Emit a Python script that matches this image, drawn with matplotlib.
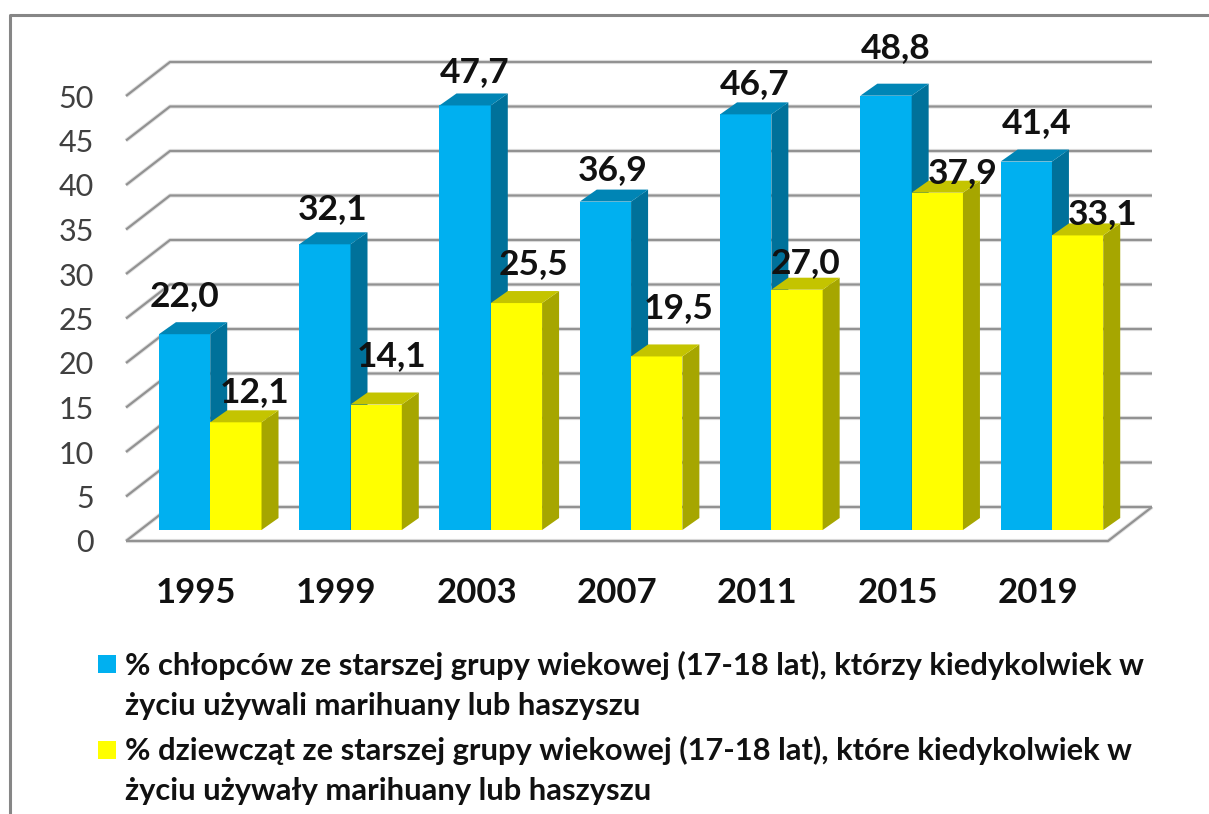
import numpy as np
import matplotlib
matplotlib.use('Agg')
import matplotlib.pyplot as plt
from matplotlib.lines import Line2D
from matplotlib.patches import Rectangle

years = ['1995', '1999', '2003', '2007', '2011', '2015', '2019']
boys = [22.0, 32.1, 47.7, 36.9, 46.7, 48.8, 41.4]
girls = [12.1, 14.1, 25.5, 19.5, 27.0, 37.9, 33.1]
y_ticks = [0, 5, 10, 15, 20, 25, 30, 35, 40, 45, 50]

legend_lines = ['% chłopców ze starszej grupy wiekowej (17-18 lat), którzy kiedykolwiek w',
                'życiu używali marihuany lub haszyszu',
                '% dziewcząt ze starszej grupy wiekowej (17-18 lat), które kiedykolwiek w',
                'życiu używały marihuany lub haszyszu']

# hand placed labels in the original, pixels from the bar front top centre
boys_off = [(0, 38), (8, 35), (10, 33), (7, 32), (9, 30), (10, 48), (10, 38)]
girls_off = [(19, 30), (15, 48), (17, 39), (22, 48), (8, 27), (25, 20), (25, 21)]

W, H = 1209, 814
plt.rcParams['font.family'] = ['Lato', 'DejaVu Sans']

def px(x, y):
    return x / W, 1 - y / H

fig = plt.figure(figsize=(W / 100, H / 100), dpi=100)
ax = fig.add_axes([126 / W, 1 - 541 / H, (1108 - 126) / W, (541 - 96) / H])
ax.set_xlim(-0.5, 6.5)
ax.set_ylim(0, 50)
ax.patch.set_visible(False)
for s in ax.spines.values():
    s.set_visible(False)

# depth of the fake 3d box, in data units
wall_dx = 44 / 140.3
wall_dy = 34 / 8.9
bar_w = 51.3 / 140.3
bar_dx = 17 / 140.3
bar_dy = 12 / 8.9
shift_x = 0.32 * wall_dx
shift_y = 11 / 8.9

def grid_line(xs, ys):
    ax.plot(xs, ys, color='#e2e2e2', lw=3.0, clip_on=False, zorder=1, solid_capstyle='butt')
    ax.plot(xs, ys, color='#929292', lw=1.6, clip_on=False, zorder=1.1, solid_capstyle='butt')

x0, x1 = ax.get_xlim()
for t in y_ticks:
    grid_line([x0, x0 + wall_dx, x1 + wall_dx], [t, t + wall_dy, t + wall_dy])
# floor edges
grid_line([x0, x1, x1 + wall_dx], [0, 0, wall_dy])

def draw_bar(left, val, front, side, top):
    b = shift_y
    ax.bar(left, val, bar_w, bottom=b, align='edge', color=front, zorder=3, clip_on=False)
    r = left + bar_w
    ax.fill([r, r + bar_dx, r + bar_dx, r],
            [b, b + bar_dy, b + val + bar_dy, b + val],
            color=side, lw=0, zorder=3, clip_on=False)
    ax.fill([left, left + bar_dx, r + bar_dx, r],
            [b + val, b + val + bar_dy, b + val + bar_dy, b + val],
            color=top, lw=0, zorder=3, clip_on=False)

pos = np.arange(len(years))
for i in pos:
    draw_bar(i + shift_x - bar_w, boys[i], '#00B0F0', '#00719A', '#0085B5')
    draw_bar(i + shift_x, girls[i], '#FFFF00', '#A6A600', '#C4C400')

def label(x, val, off):
    ax.annotate(f'{val:.1f}'.replace('.', ','), (x, val + shift_y), xytext=off,
                textcoords='offset pixels', ha='center', va='center',
                fontsize=25.5, color='#111111', fontweight='bold', zorder=5,
                annotation_clip=False)

for i in pos:
    label(i + shift_x - bar_w / 2, boys[i], boys_off[i])
    label(i + shift_x + bar_w / 2, girls[i], girls_off[i])

ax.set_xticks(pos)
ax.set_xticklabels(years, fontsize=25, fontweight='bold', color='#111111')
ax.set_yticks(y_ticks)
ax.set_yticklabels([str(t) for t in y_ticks], fontsize=22, color='#404040')
ax.tick_params(axis='x', length=0, pad=26)
ax.tick_params(axis='y', length=0, pad=23)

# legend keys and wrapped text
for y, c in [(655, '#00B0F0'), (741, '#FFFF00')]:
    fx, fy = px(98, y + 18)
    fig.add_artist(Rectangle((fx, fy), 18 / W, 18 / H, transform=fig.transFigure,
                             facecolor=c, edgecolor='none'))
for txt, y in zip(legend_lines, [675, 715, 760, 800]):
    fx, fy = px(125, y)
    fig.text(fx, fy, txt, fontsize=22.2, fontweight='bold', color='#111111', va='baseline')

# chart frame, only top and left are in view
fig.add_artist(Line2D([10 / W, 10 / W, 1], [0, 1 - 15 / H, 1 - 15 / H],
                      transform=fig.transFigure, color='#868686', lw=2.2))

fig.savefig('out.png', dpi=100)
